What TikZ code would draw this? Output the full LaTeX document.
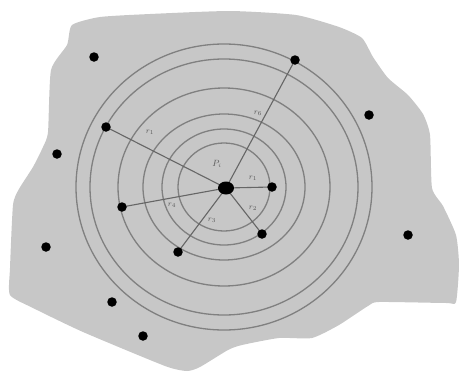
\documentclass[tikz,border=0pt]{standalone}
\usetikzlibrary{shapes.geometric,backgrounds}
\begin{document}
\begin{tikzpicture}[x=1pt,y=-1pt,
  dot/.style={circle,fill=black,inner sep=0pt,minimum size=9.5pt},
  bigdot/.style={ellipse,fill=black,inner sep=0pt,minimum width=16pt,minimum height=13pt},
  ring/.style={draw=black!50,line width=1.3pt},
  spoke/.style={draw=black!60,line width=1.1pt},
  lab/.style={font=\footnotesize,text=black!65,inner sep=1pt}]
\useasboundingbox (0,0) rectangle (459,375);
\node[bigdot] (P) at (226,188) {};
\node[dot] (a) at (106,127) {};
\node[dot] (b) at (295,60) {};
\node[dot] (c) at (272,187) {};
\node[dot] (d) at (262,234) {};
\node[dot] (e) at (178,252) {};
\node[dot] (f) at (122,207) {};
\node[dot] (g1) at (94,57) {};
\node[dot] (g2) at (369,115) {};
\node[dot] (g3) at (57,154) {};
\node[dot] (g4) at (408,235) {};
\node[dot] (g5) at (46,247) {};
\node[dot] (g6) at (112,302) {};
\node[dot] (g7) at (143,336) {};
\begin{scope}[on background layer]
\fill[black!22] plot[smooth cycle,tension=0.35] coordinates {
 (72,25) (100,17) (150,14) (230,11) (296,15) (339,27) (362,38) (373,57) (388,78)
 (408,95) (423,114) (430,135) (432,188) (443,206) (456,235) (459,265) (456,302)
 (446,303) (379,302) (368,306) (339,325) (312,338) (279,338) (242,345) (228,350)
 (200,367) (187,371) (165,366) (83,332) (33,308) (10,295) (10,268) (13,205)
 (19,189) (33,167) (43,147) (48,132) (51,70) (67,45) };
\foreach \rx/\ry in {148/143,134/128,106/99,81/73,62/58,46/44}
  \draw[ring] (224,187) ellipse [x radius=\rx, y radius=\ry];
\foreach \t in {a,b,c,d,e,f} \draw[spoke] (P.center) -- (\t.center);
\end{scope}
\node[lab] at (150,132) {$r_1$};
\node[lab] at (258,113) {$r_6$};
\node[lab] at (253,178) {$r_1$};
\node[lab] at (253,208) {$r_2$};
\node[lab] at (212,220) {$r_3$};
\node[lab] at (172,205) {$r_4$};
\node[lab,font=\small] at (217,164) {$P_i$};
\end{tikzpicture}
\end{document}
